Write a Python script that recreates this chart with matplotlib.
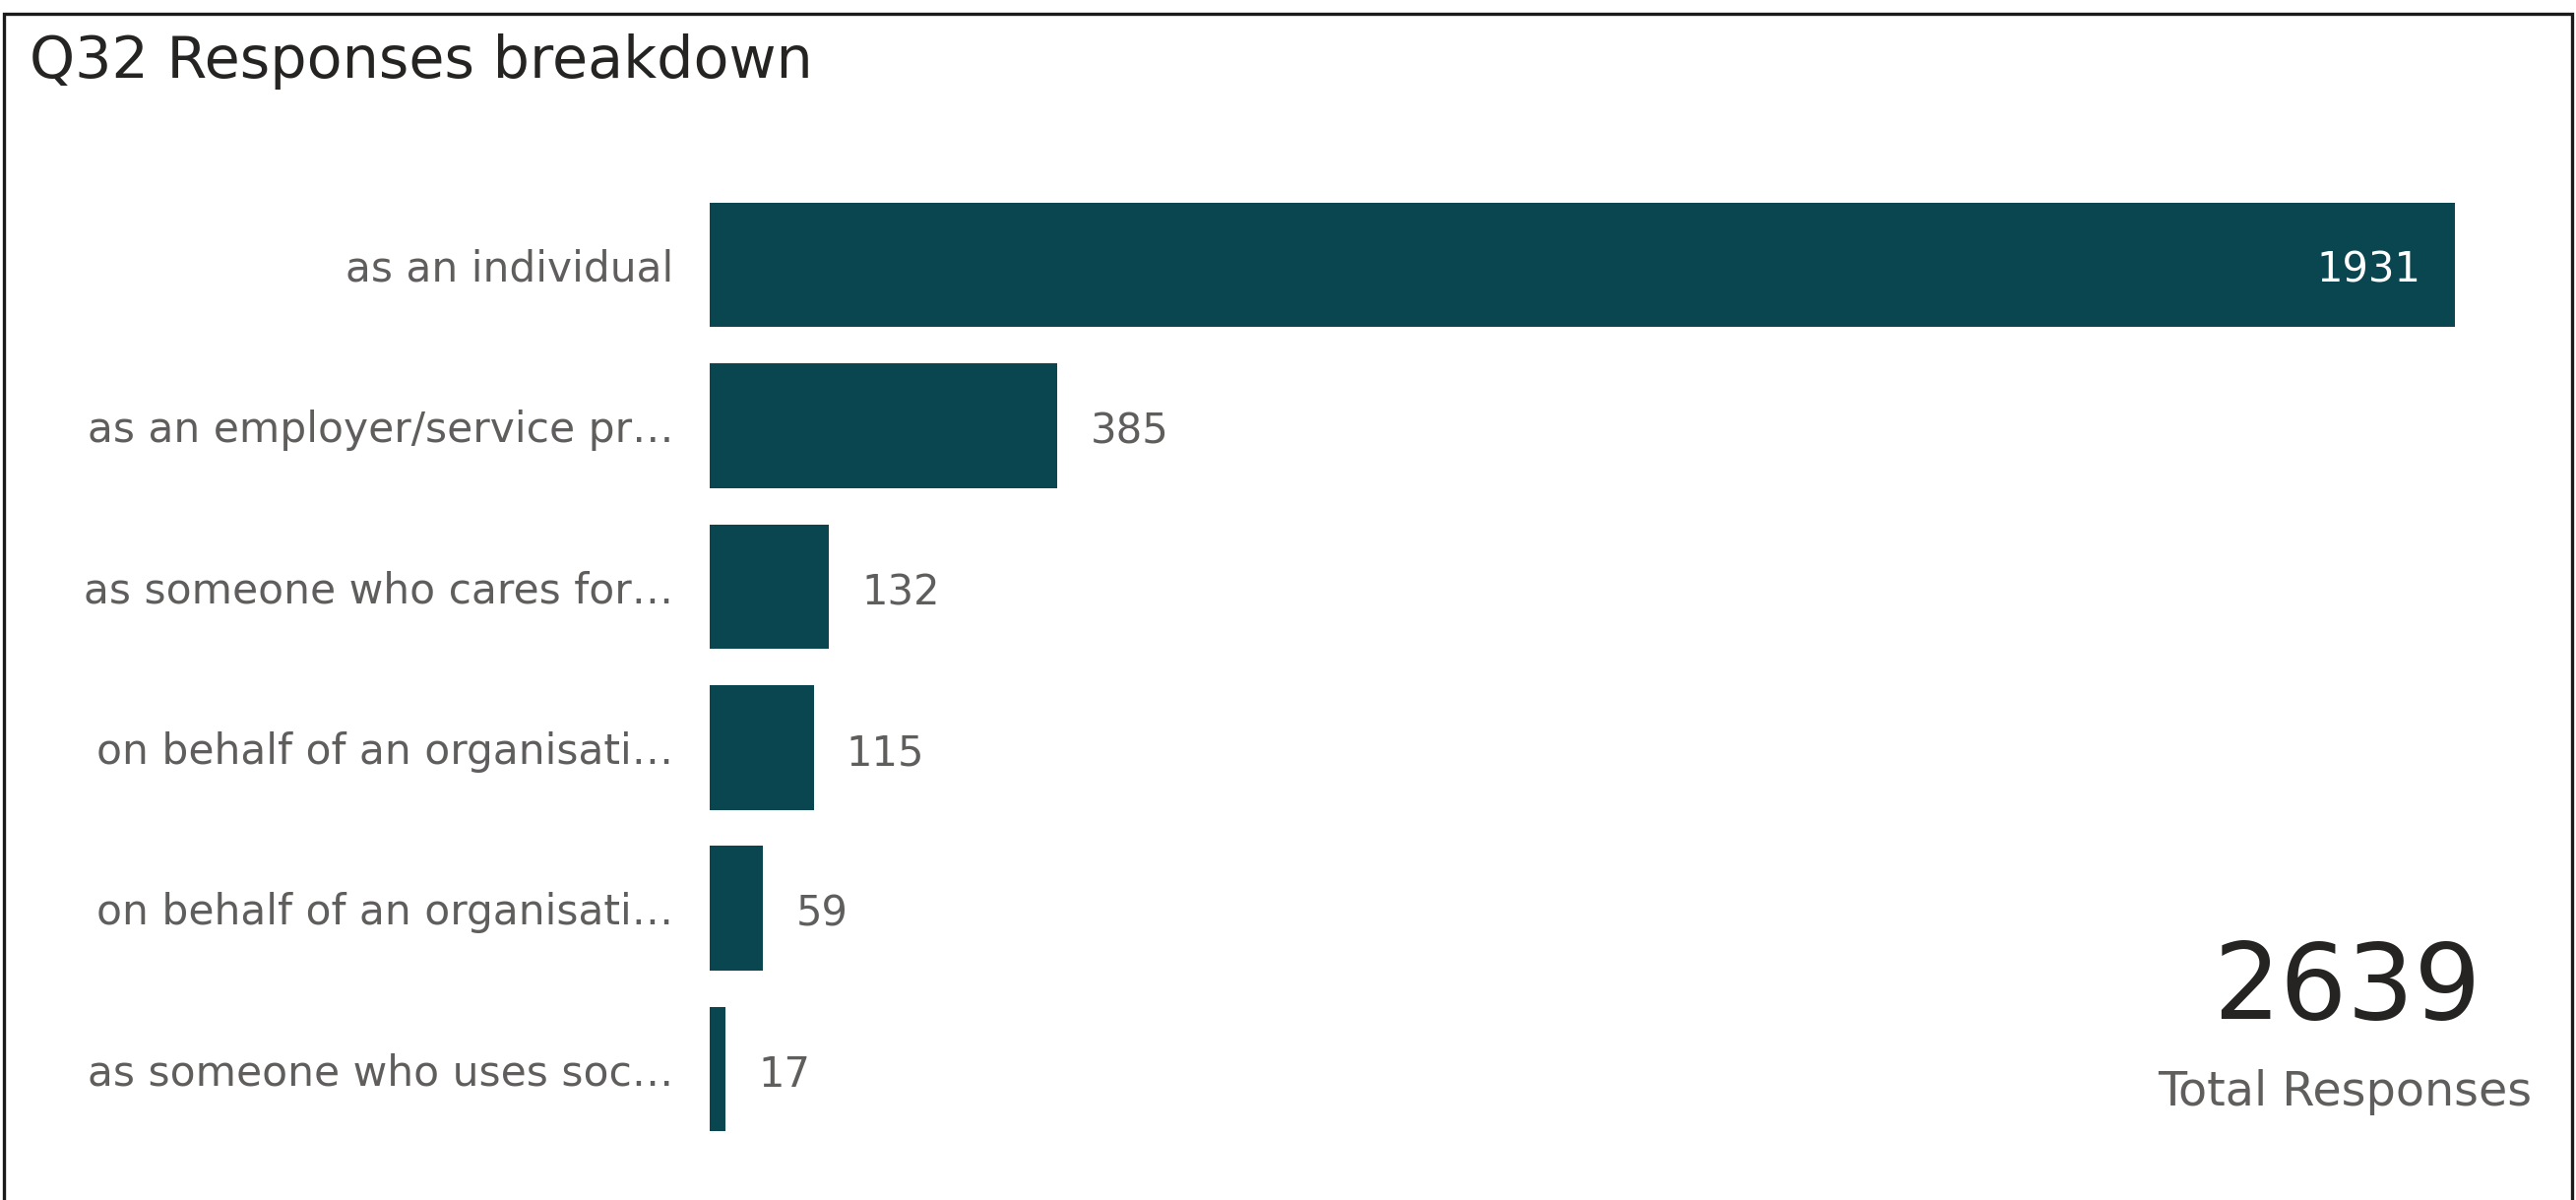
import matplotlib
matplotlib.use("Agg")
from matplotlib import pyplot as plt
from matplotlib.patches import Rectangle

categories = [
    "as an individual",
    "as an employer/service pr…",
    "as someone who cares for…",
    "on behalf of an organisati…",
    "on behalf of an organisati…",
    "as someone who uses soc…",
]
counts = [1931, 385, 132, 115, 59, 17]
total = 2639

bar_color = "#0A4650"
label_color = "#605E5C"
dark_text = "#252423"

plt.rcParams["font.family"] = ["DejaVu Sans"]

fig = plt.figure(figsize=(26.17, 12.19), dpi=100)

# card frame
fig.patches.append(Rectangle((4 / 2617, -0.05), (2609 / 2617), 1 - 14 / 1219 + 0.05,
                             transform=fig.transFigure, fill=False,
                             edgecolor="#1a1a1a", linewidth=2.4))

fig.text(30 / 2617, 1 - 79 / 1219, "Q32 Responses breakdown", fontsize=42.3,
         color=dark_text, ha="left", va="baseline")

ax = fig.add_axes([721 / 2617, 0.0421, (2494 - 721) / 2617, 0.804])
ypos = list(range(len(categories)))
ax.barh(ypos, counts, height=0.774, color=bar_color)
ax.set_xlim(0, max(counts))
ax.set_ylim(len(categories) - 0.5, -0.5)

ax.set_yticks(ypos)
ax.set_yticklabels(categories, fontsize=30.5, color=label_color)
ax.tick_params(axis="y", length=0, pad=26.5)
ax.set_xticks([])
for s in ax.spines.values():
    s.set_visible(False)

for y, v in zip(ypos, counts):
    if v == max(counts):
        ax.annotate(str(v), (v, y), xytext=(-25, -4), textcoords="offset points",
                    ha="right", va="center", fontsize=30, color="white")
    else:
        ax.annotate(str(v), (v, y), xytext=(24, -4.5), textcoords="offset points",
                    ha="left", va="center", fontsize=30, color=label_color)

# total responses card
fig.text(2384 / 2617, 1 - 1035 / 1219, str(total), fontsize=77,
         color=dark_text, ha="center", va="baseline")
fig.text(2382 / 2617, 1 - 1123 / 1219, "Total Responses", fontsize=34.3,
         color=label_color, ha="center", va="baseline")

fig.savefig("out.png", dpi=100)
